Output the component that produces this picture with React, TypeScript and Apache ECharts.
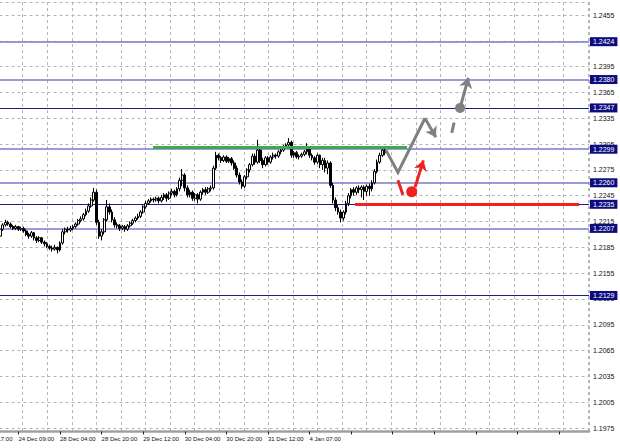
import React, { useEffect, useRef } from "react";
import * as echarts from "echarts";

// ---- tick labels / layout of the time axis ----
const tickLabels = ["23 Dec 17:00", "24 Dec 09:00", "28 Dec 04:00", "28 Dec 20:00", "29 Dec 12:00", "30 Dec 04:00", "30 Dec 20:00", "31 Dec 12:00", "4 Jan 07:00"];
const barsPerLabel = 16;
const firstBarSlot = 9; // slot of the first visible candle (slot 0 = "23 Dec 17:00")
const totalSlots = 236;

// ---- H1 candles ----
const opens = [
  1.2198, 1.2206, 1.2211, 1.2214, 1.2212, 1.2209, 1.2207, 1.2209, 1.2206, 1.2207,
  1.2204, 1.2200, 1.2198, 1.2202, 1.2196, 1.2193, 1.2196, 1.2191, 1.2189, 1.2186,
  1.2184, 1.2183, 1.2185, 1.2182, 1.2190, 1.2203, 1.2206, 1.2205, 1.2207, 1.2209,
  1.2212, 1.2216, 1.2218, 1.2223, 1.2227, 1.2233, 1.2240, 1.2249, 1.2214, 1.2198,
  1.2203, 1.2217, 1.2232, 1.2226, 1.2217, 1.2211, 1.2210, 1.2207, 1.2209, 1.2206,
  1.2210, 1.2213, 1.2216, 1.2219, 1.2221, 1.2226, 1.2232, 1.2236, 1.2239, 1.2241,
  1.2240, 1.2242, 1.2239, 1.2243, 1.2246, 1.2242, 1.2248, 1.2250, 1.2246, 1.2253,
  1.2263, 1.2269, 1.2254, 1.2246, 1.2249, 1.2242, 1.2246, 1.2241, 1.2249, 1.2252,
  1.2249, 1.2253, 1.2254, 1.2277, 1.2292, 1.2289, 1.2286, 1.2290, 1.2285, 1.2288,
  1.2283, 1.2277, 1.2269, 1.2261, 1.2256, 1.2267, 1.2275, 1.2281, 1.2291, 1.2284,
  1.2298, 1.2286, 1.2281, 1.2289, 1.2284, 1.2290, 1.2292, 1.2291, 1.2296, 1.2298,
  1.2302, 1.2304, 1.2307, 1.2292, 1.2295, 1.2290, 1.2291, 1.2293, 1.2296, 1.2300,
  1.2292, 1.2289, 1.2284, 1.2292, 1.2281, 1.2286, 1.2277, 1.2283, 1.2257, 1.2240,
  1.2231, 1.2226, 1.2219, 1.2226, 1.2236, 1.2245, 1.2252, 1.2249, 1.2254, 1.2252,
  1.2255, 1.2250, 1.2256, 1.2253, 1.2260, 1.2273, 1.2284, 1.2292, 1.2298,
];
const closes = [
  1.2206, 1.2211, 1.2214, 1.2212, 1.2209, 1.2207, 1.2209, 1.2206, 1.2207, 1.2204,
  1.2200, 1.2198, 1.2202, 1.2196, 1.2193, 1.2196, 1.2191, 1.2189, 1.2186, 1.2184,
  1.2183, 1.2185, 1.2182, 1.2190, 1.2203, 1.2206, 1.2205, 1.2207, 1.2209, 1.2212,
  1.2216, 1.2218, 1.2223, 1.2227, 1.2233, 1.2240, 1.2249, 1.2214, 1.2198, 1.2203,
  1.2217, 1.2232, 1.2226, 1.2217, 1.2211, 1.2210, 1.2207, 1.2209, 1.2206, 1.2210,
  1.2213, 1.2216, 1.2219, 1.2221, 1.2226, 1.2232, 1.2236, 1.2239, 1.2241, 1.2240,
  1.2242, 1.2239, 1.2243, 1.2246, 1.2242, 1.2248, 1.2250, 1.2246, 1.2253, 1.2263,
  1.2269, 1.2254, 1.2246, 1.2249, 1.2242, 1.2246, 1.2241, 1.2249, 1.2252, 1.2249,
  1.2253, 1.2254, 1.2277, 1.2292, 1.2289, 1.2286, 1.2290, 1.2285, 1.2288, 1.2283,
  1.2277, 1.2269, 1.2261, 1.2256, 1.2267, 1.2275, 1.2281, 1.2291, 1.2284, 1.2298,
  1.2286, 1.2281, 1.2289, 1.2284, 1.2290, 1.2292, 1.2291, 1.2296, 1.2298, 1.2302,
  1.2304, 1.2307, 1.2292, 1.2295, 1.2290, 1.2291, 1.2293, 1.2296, 1.2300, 1.2292,
  1.2289, 1.2284, 1.2292, 1.2281, 1.2286, 1.2277, 1.2283, 1.2257, 1.2240, 1.2231,
  1.2226, 1.2219, 1.2226, 1.2236, 1.2245, 1.2252, 1.2249, 1.2254, 1.2252, 1.2255,
  1.2250, 1.2256, 1.2253, 1.2260, 1.2273, 1.2284, 1.2292, 1.2298, 1.2295,
];
const lows = [
  1.2193, 1.2204, 1.2209, 1.2210, 1.2207, 1.2205, 1.2205, 1.2204, 1.2204, 1.2202,
  1.2198, 1.2195, 1.2196, 1.2193, 1.2190, 1.2191, 1.2189, 1.2186, 1.2184, 1.2182,
  1.2180, 1.2181, 1.2178, 1.2180, 1.2188, 1.2200, 1.2202, 1.2203, 1.2205, 1.2207,
  1.2210, 1.2214, 1.2216, 1.2221, 1.2225, 1.2231, 1.2238, 1.2211, 1.2195, 1.2193,
  1.2200, 1.2215, 1.2223, 1.2214, 1.2208, 1.2207, 1.2204, 1.2205, 1.2203, 1.2204,
  1.2208, 1.2211, 1.2214, 1.2217, 1.2219, 1.2224, 1.2230, 1.2234, 1.2237, 1.2237,
  1.2238, 1.2236, 1.2237, 1.2240, 1.2238, 1.2240, 1.2245, 1.2243, 1.2244, 1.2250,
  1.2256, 1.2250, 1.2243, 1.2243, 1.2239, 1.2239, 1.2236, 1.2239, 1.2246, 1.2246,
  1.2247, 1.2250, 1.2252, 1.2275, 1.2286, 1.2283, 1.2284, 1.2283, 1.2283, 1.2280,
  1.2275, 1.2266, 1.2258, 1.2253, 1.2254, 1.2264, 1.2272, 1.2279, 1.2281, 1.2282,
  1.2283, 1.2277, 1.2279, 1.2281, 1.2282, 1.2287, 1.2288, 1.2289, 1.2293, 1.2296,
  1.2300, 1.2302, 1.2289, 1.2289, 1.2288, 1.2287, 1.2289, 1.2291, 1.2293, 1.2289,
  1.2286, 1.2281, 1.2282, 1.2277, 1.2275, 1.2272, 1.2270, 1.2254, 1.2236, 1.2227,
  1.2223, 1.2214, 1.2216, 1.2223, 1.2233, 1.2242, 1.2245, 1.2246, 1.2248, 1.2243,
  1.2240, 1.2245, 1.2245, 1.2250, 1.2258, 1.2271, 1.2282, 1.2290, 1.2292,
];
const highs = [
  1.2209, 1.2213, 1.2217, 1.2216, 1.2214, 1.2211, 1.2211, 1.2210, 1.2209, 1.2209,
  1.2206, 1.2202, 1.2204, 1.2203, 1.2198, 1.2198, 1.2197, 1.2193, 1.2191, 1.2188,
  1.2187, 1.2188, 1.2186, 1.2192, 1.2206, 1.2208, 1.2209, 1.2210, 1.2211, 1.2214,
  1.2218, 1.2221, 1.2225, 1.2230, 1.2236, 1.2243, 1.2254, 1.2252, 1.2217, 1.2206,
  1.2219, 1.2240, 1.2236, 1.2229, 1.2220, 1.2214, 1.2212, 1.2211, 1.2211, 1.2212,
  1.2215, 1.2218, 1.2221, 1.2224, 1.2228, 1.2234, 1.2239, 1.2241, 1.2243, 1.2243,
  1.2244, 1.2244, 1.2246, 1.2248, 1.2248, 1.2250, 1.2253, 1.2252, 1.2255, 1.2266,
  1.2276, 1.2271, 1.2257, 1.2252, 1.2251, 1.2248, 1.2248, 1.2251, 1.2254, 1.2255,
  1.2255, 1.2257, 1.2280, 1.2296, 1.2294, 1.2291, 1.2292, 1.2292, 1.2290, 1.2290,
  1.2286, 1.2280, 1.2272, 1.2264, 1.2269, 1.2277, 1.2283, 1.2294, 1.2294, 1.2310,
  1.2300, 1.2289, 1.2291, 1.2291, 1.2292, 1.2295, 1.2294, 1.2298, 1.2300, 1.2304,
  1.2306, 1.2312, 1.2309, 1.2297, 1.2297, 1.2293, 1.2295, 1.2298, 1.2306, 1.2302,
  1.2294, 1.2291, 1.2294, 1.2293, 1.2289, 1.2289, 1.2286, 1.2285, 1.2260, 1.2243,
  1.2234, 1.2229, 1.2228, 1.2239, 1.2248, 1.2254, 1.2255, 1.2256, 1.2257, 1.2257,
  1.2257, 1.2258, 1.2259, 1.2263, 1.2276, 1.2287, 1.2295, 1.2302, 1.2300,
];

// ---- horizontal levels (labels in boxes on the price scale) ----
const levels = [1.2424, 1.238, 1.2347, 1.2299, 1.226, 1.2235, 1.2207, 1.2129];
const levelDark = [false, false, true, false, false, true, false, true];

// ---- drawn annotations, in (bar slot, price) ----
const greenLine = [[67.8, 1.2301], [165.5, 1.2301]];
const redLine = [[145.5, 1.22348], [231.7, 1.22348]];
const grayZig = [[157.4, 1.2298], [162.0, 1.2272], [172.4, 1.2335]];
const grayZigArrow = [[172.4, 1.2335], [176.6, 1.2313]];
const grayDash = [[182.7, 1.2318], [183.6, 1.2330]];
const grayPoint = [185.9, 1.2347];
const grayArrow = [[185.9, 1.2347], [189.1, 1.2382]];
const redStroke = [[162.0, 1.2263], [163.9, 1.2246]];
const redPoint = [167.3, 1.22496];
const redArrow = [[168.6, 1.2255], [171.8, 1.2286]];

// ---- price scale ----
const yMin = 1.1975;
const yMax = 1.247;
const yStep = 0.003;

const FONT = "Liberation Sans, Arial, sans-serif";

export default function App() {
  const ref = useRef<HTMLDivElement>(null);
  useEffect(() => {
    if (!ref.current) return;
    const chart = echarts.init(ref.current, undefined, { renderer: "svg" });

    const slots = Array.from({ length: totalSlots }, (_, i) => "s" + i);
    const candles: any[] = [];
    for (let i = 0; i < firstBarSlot; i++) candles.push(["-", "-", "-", "-"]);
    for (let i = 0; i < opens.length; i++) candles.push([opens[i], closes[i], lows[i], highs[i]]);

    const labelEvery = (i: number) => i % barsPerLabel === 0;
    const gridDash = { color: "#b4b4b4", width: 1, type: [3, 3] as any };

    const option: any = {
      animation: false,
      backgroundColor: "#ffffff",
      grid: [
        { left: -24.5, right: 31, top: 2.1, bottom: 20, outerBoundsMode: "none", containLabel: false },
        { left: -1.87, right: 31, top: 2.1, bottom: 16.5, outerBoundsMode: "none", containLabel: false },
      ],
      xAxis: [
        {
          type: "category",
          gridIndex: 0,
          data: slots,
          boundaryGap: true,
          position: "bottom",
          offset: 3.5,
          axisLine: { show: true, lineStyle: { color: "#222", width: 1 } },
          axisTick: { show: true, interval: labelEvery, alignWithLabel: true, length: 3, lineStyle: { color: "#222" } },
          axisLabel: {
            interval: labelEvery,
            formatter: (_v: string, i: number) => tickLabels[Math.round(i / barsPerLabel)] ?? "",
            align: "left",
            fontSize: 6,
            fontFamily: FONT,
            color: "#111",
            margin: 4,
          },
          splitLine: { show: false },
        },
        { type: "value", gridIndex: 0, min: -0.5, max: totalSlots - 0.5, show: false },
        {
          type: "value",
          gridIndex: 1,
          min: 0,
          max: 24.05,
          interval: 1,
          position: "top",
          axisLine: { show: true, lineStyle: { color: "#a0a0a0", width: 2.5 } },
          axisTick: { show: false },
          axisLabel: { show: false },
          splitLine: { show: true, lineStyle: gridDash },
        },
      ],
      yAxis: [
        {
          type: "value",
          gridIndex: 0,
          position: "right",
          min: yMin,
          max: yMax,
          interval: yStep,
          axisLine: { show: false },
          axisTick: { show: true, length: 3, lineStyle: { color: "#222" } },
          axisLabel: {
            formatter: (v: number) => v.toFixed(4),
            fontSize: 7,
            fontFamily: FONT,
            color: "#111",
            margin: 4,
            showMaxLabel: false,
          },
          splitLine: { show: true, lineStyle: gridDash },
        },
        {
          type: "value",
          gridIndex: 1,
          position: "right",
          min: 0,
          max: 1,
          axisLine: { show: true, lineStyle: { color: "#222", width: 1 } },
          axisTick: { show: false },
          axisLabel: { show: false },
          splitLine: { show: false },
        },
      ],
      series: [
        {
          type: "line",
          xAxisIndex: 1,
          yAxisIndex: 0,
          data: [],
          symbol: "none",
          silent: true,
          z: 1,
          markLine: {
            silent: true,
            precision: 4,
            z: 1,
            symbol: ["none", "none"],
            data: levels.map((v, i) => ({
              yAxis: v,
              lineStyle: {
                color: levelDark[i] ? "#1c1c8c" : "#7a7acc",
                width: levelDark[i] ? 1 : 1.5,
                type: "solid",
              },
              label: {
                show: true,
                position: "end",
                distance: 1,
                formatter: () => v.toFixed(4),
                backgroundColor: "#0c0c7e",
                color: "#ffffff",
                fontSize: 7,
                fontFamily: FONT,
                padding: [1, 3, 0, 3],
                lineHeight: 8,
              },
            })),
          },
        },
        {
          type: "candlestick",
          xAxisIndex: 0,
          yAxisIndex: 0,
          data: candles,
          barWidth: 2.2,
          z: 2,
          itemStyle: {
            color: "#ffffff",
            color0: "#000000",
            borderColor: "#000000",
            borderColor0: "#000000",
            borderWidth: 1,
          },
        },
        {
          type: "line",
          xAxisIndex: 1,
          yAxisIndex: 0,
          data: greenLine,
          symbol: "none",
          silent: true,
          z: 3,
          lineStyle: { color: "#3aac4a", width: 3 },
        },
        {
          type: "line",
          xAxisIndex: 1,
          yAxisIndex: 0,
          data: redLine,
          symbol: "none",
          silent: true,
          z: 3,
          lineStyle: { color: "#ee2222", width: 3 },
        },
        {
          type: "line",
          xAxisIndex: 1,
          yAxisIndex: 0,
          data: grayZig,
          symbol: "none",
          silent: true,
          z: 3,
          lineStyle: { color: "#808080", width: 3, join: "miter" },
        },
        {
          type: "line",
          xAxisIndex: 1,
          yAxisIndex: 0,
          data: grayDash,
          symbol: "none",
          silent: true,
          z: 3,
          lineStyle: { color: "#808080", width: 3 },
        },
        {
          type: "line",
          xAxisIndex: 1,
          yAxisIndex: 0,
          data: redStroke,
          symbol: "none",
          silent: true,
          z: 3,
          lineStyle: { color: "#ee2222", width: 3 },
        },
        {
          type: "lines",
          coordinateSystem: "cartesian2d",
          xAxisIndex: 1,
          yAxisIndex: 0,
          symbol: ["none", "arrow"],
          symbolSize: 10,
          silent: true,
          z: 3,
          lineStyle: { color: "#808080", width: 3, opacity: 1, curveness: 0 },
          data: [{ coords: grayZigArrow }, { coords: grayArrow }],
        },
        {
          type: "lines",
          coordinateSystem: "cartesian2d",
          xAxisIndex: 1,
          yAxisIndex: 0,
          symbol: ["none", "arrow"],
          symbolSize: 10,
          silent: true,
          z: 3,
          lineStyle: { color: "#ee2222", width: 3, opacity: 1, curveness: 0 },
          data: [{ coords: redArrow }],
        },
        {
          type: "scatter",
          xAxisIndex: 1,
          yAxisIndex: 0,
          data: [grayPoint],
          symbolSize: 10,
          silent: true,
          z: 4,
          itemStyle: { color: "#808080", opacity: 1 },
        },
        {
          type: "scatter",
          xAxisIndex: 1,
          yAxisIndex: 0,
          data: [redPoint],
          symbolSize: 11,
          silent: true,
          z: 4,
          itemStyle: { color: "#ee2222", opacity: 1 },
        },
      ],
    };
    chart.setOption(option);
    return () => chart.dispose();
  }, []);

  return (
    <div style={{ position: "fixed", left: 0, top: 0, width: 620, height: 448, background: "#fff" }}>
      <div ref={ref} style={{ width: 620, height: 448 }} />
    </div>
  );
}
